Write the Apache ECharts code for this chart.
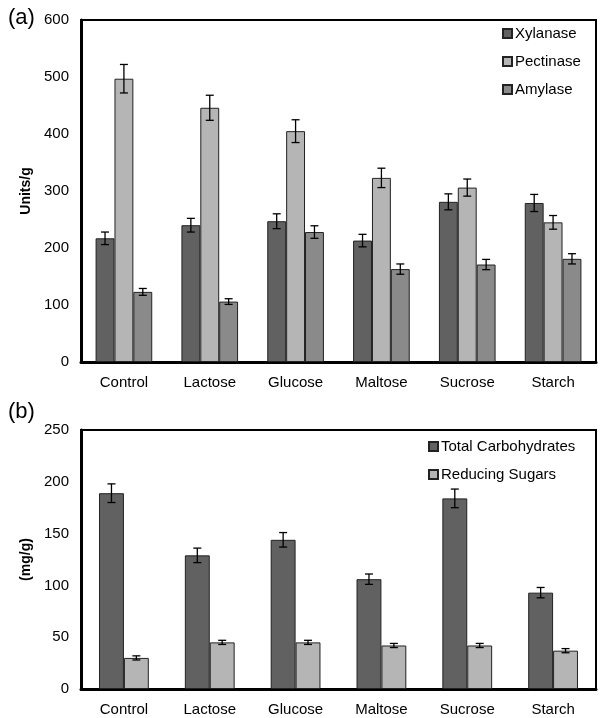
<!DOCTYPE html>
<html>
<head>
<meta charset="utf-8">
<script src="https://cdn.jsdelivr.net/npm/echarts@6/dist/echarts.min.js"></script>
<style>
html, body { margin: 0; padding: 0; background: #fff; }
#main { width: 600px; height: 718px; }
</style>
</head>
<body>
<div id="main"></div>
<script>
// categories shared by both panels
var categories = ['Control', 'Lactose', 'Glucose', 'Maltose', 'Sucrose', 'Starch'];

// panel (a) enzyme activity, Units/g
var xylanase = [217, 240, 247, 213, 281, 279];
var xylanaseErr = [11, 12, 13, 11, 14, 15];
var pectinase = [497, 446, 405, 323, 306, 245];
var pectinaseErr = [25, 22, 20, 17, 15, 12];
var amylase = [123, 106, 228, 163, 171, 181];
var amylaseErr = [6, 5, 11, 9, 9, 9];

// panel (b) sugars, mg/g
var totalCarb = [189, 129, 144, 106, 184, 93];
var totalCarbErr = [9, 7, 7, 5, 9, 5];
var reducing = [30, 45, 45, 42, 42, 37];
var reducingErr = [2, 2, 2, 2, 2, 2];

var FONT = 'Liberation Sans, Arial, sans-serif';

function errData(vals, errs) {
    return vals.map(function (v, i) { return [i, v - errs[i], v + errs[i]]; });
}

// draws an error bar over bar number idx of n in each category
function errRender(n, idx, gapFrac) {
    return function (params, api) {
        var x = api.value(0);
        var lo = api.coord([x, api.value(1)]);
        var hi = api.coord([x, api.value(2)]);
        var band = api.size([1, 0])[0];
        var barW = band * (1 - gapFrac) / n;
        var cx = lo[0] + (idx - (n - 1) / 2) * barW;
        var cap = 4;
        var st = { stroke: '#000', lineWidth: 1.3 };
        return {
            type: 'group',
            children: [
                { type: 'line', shape: { x1: cx, y1: lo[1], x2: cx, y2: hi[1] }, style: st },
                { type: 'line', shape: { x1: cx - cap, y1: lo[1], x2: cx + cap, y2: lo[1] }, style: st },
                { type: 'line', shape: { x1: cx - cap, y1: hi[1], x2: cx + cap, y2: hi[1] }, style: st }
            ]
        };
    };
}

function barSeries(name, data, color, axis, gap) {
    return {
        name: name, type: 'bar', data: data,
        xAxisIndex: axis, yAxisIndex: axis,
        barGap: 0, barCategoryGap: gap,
        itemStyle: { color: color, borderColor: '#222', borderWidth: 1 }
    };
}

function errSeries(vals, errs, axis, n, idx, gapFrac) {
    return {
        type: 'custom', xAxisIndex: axis, yAxisIndex: axis,
        data: errData(vals, errs), z: 5,
        encode: { x: 0, y: [1, 2] },
        renderItem: errRender(n, idx, gapFrac)
    };
}

var chart = echarts.init(document.getElementById('main'));

var xAxisBase = {
    type: 'category', data: categories,
    axisLine: { lineStyle: { color: '#000', width: 3 } },
    axisTick: { inside: true, length: 5, lineStyle: { color: '#000', width: 1.5 } },
    axisLabel: { color: '#000', fontSize: 15, fontFamily: FONT, margin: 13 }
};

function yAxisOf(grid, max, interval, name, gap) {
    return {
        type: 'value', gridIndex: grid, min: 0, max: max, interval: interval,
        name: name, nameLocation: 'middle', nameGap: gap,
        nameTextStyle: { color: '#000', fontSize: 14, fontWeight: 'bold', fontFamily: FONT },
        axisLine: { show: true, lineStyle: { color: '#000', width: 3 } },
        axisTick: { show: false },
        splitLine: { show: false },
        axisLabel: { color: '#000', fontSize: 15, fontFamily: FONT, margin: 12 }
    };
}

var legendText = { color: '#000', fontSize: 15, fontFamily: FONT, padding: [0, 0, 0, -2] };

var option = {
    animation: false,
    backgroundColor: '#fff',
    title: [
        { text: '(a)', left: 3, top: 2, textStyle: { fontSize: 22, fontWeight: 'normal', color: '#000', fontFamily: FONT } },
        { text: '(b)', left: 3, top: 396, textStyle: { fontSize: 22, fontWeight: 'normal', color: '#000', fontFamily: FONT } }
    ],
    grid: [
        { left: 81, right: 4, top: 20, height: 342, show: true, borderColor: '#000', borderWidth: 2, backgroundColor: 'transparent' },
        { left: 81, right: 4, top: 430, height: 259, show: true, borderColor: '#000', borderWidth: 2, backgroundColor: 'transparent' }
    ],
    legend: [
        {
            data: ['Xylanase', 'Pectinase', 'Amylase'],
            orient: 'vertical', left: 497, top: 21, itemGap: 13,
            icon: 'rect', itemWidth: 9, itemHeight: 9,
            textStyle: legendText
        },
        {
            data: ['Total Carbohydrates', 'Reducing Sugars'],
            orient: 'vertical', left: 423, top: 434, itemGap: 13,
            icon: 'rect', itemWidth: 9, itemHeight: 9,
            textStyle: legendText
        }
    ],
    xAxis: [
        Object.assign({ gridIndex: 0 }, xAxisBase),
        Object.assign({ gridIndex: 1 }, xAxisBase)
    ],
    yAxis: [
        yAxisOf(0, 600, 100, 'Units/g', 48),
        yAxisOf(1, 250, 50, '(mg/g)', 48)
    ],
    series: [
        barSeries('Xylanase', xylanase, '#616161', 0, '34%'),
        barSeries('Pectinase', pectinase, '#b5b5b5', 0, '34%'),
        barSeries('Amylase', amylase, '#8a8a8a', 0, '34%'),
        errSeries(xylanase, xylanaseErr, 0, 3, 0, 0.34),
        errSeries(pectinase, pectinaseErr, 0, 3, 1, 0.34),
        errSeries(amylase, amylaseErr, 0, 3, 2, 0.34),
        barSeries('Total Carbohydrates', totalCarb, '#616161', 1, '42%'),
        barSeries('Reducing Sugars', reducing, '#b5b5b5', 1, '42%'),
        errSeries(totalCarb, totalCarbErr, 1, 2, 0, 0.42),
        errSeries(reducing, reducingErr, 1, 2, 1, 0.42)
    ]
};

chart.setOption(option);
</script>
</body>
</html>
